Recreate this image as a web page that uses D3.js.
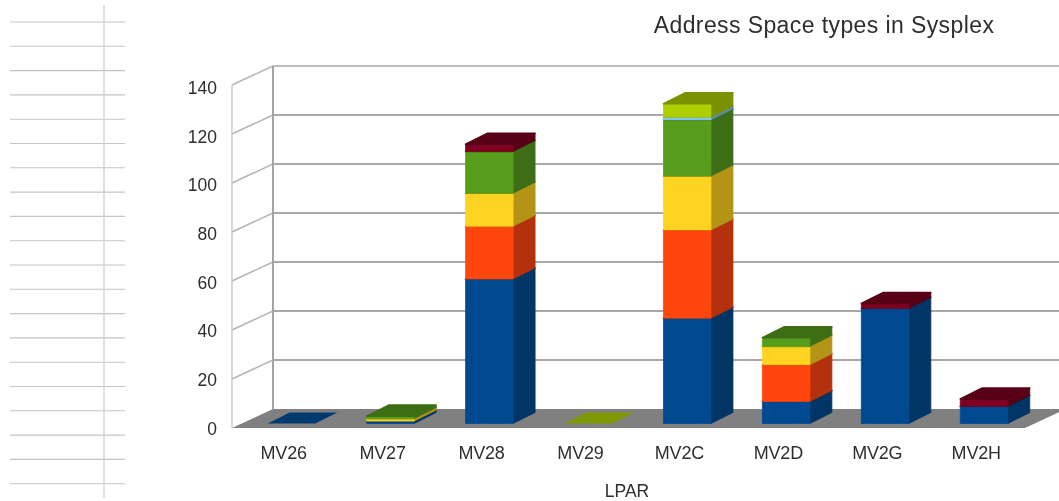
<!DOCTYPE html>
<html><head><meta charset="utf-8">
<script src="https://cdn.jsdelivr.net/npm/d3@7"></script>
<style>
html,body{margin:0;padding:0;background:#fff;overflow:hidden}
text{font-family:"Liberation Sans",Arial,sans-serif;fill:#2e2e2e}
</style></head><body>
<svg id="c" width="1059" height="501"></svg>
<script>
const categories=["MV26","MV27","MV28","MV29","MV2C","MV2D","MV2G","MV2H"];
const seriesBlue  =[0,1,59,null,43,9,47,7];
const seriesOrange=[null,null,21.5,null,36,15,null,null];
const seriesYellow=[null,1,13.5,null,22,7.5,null,null];
const seriesGreen =[null,1,17,null,23,3.5,null,null];
const seriesMaroon=[null,null,3,null,null,null,2,3];
const seriesSky   =[null,null,null,null,1,null,null,null];
const seriesLime  =[null,null,null,0,5.5,null,null,null];
const seriesList=[seriesBlue,seriesOrange,seriesYellow,seriesGreen,seriesMaroon,seriesSky,seriesLime];
const colors=["#004a90","#ff470a","#ffd320","#579d1c","#7e0021","#83caff","#aecf00"];
const yTicks=[0,20,40,60,80,100,120,140];

const svg=d3.select("#c");
const defs=svg.append("defs");
defs.append("filter").attr("id","soft").append("feGaussianBlur").attr("stdDeviation",0.45);
defs.append("filter").attr("id","softBar").append("feGaussianBlur").attr("stdDeviation",0.7);

const y=d3.scaleLinear().domain([0,140]).range([428,85]);
const x=d3.scaleBand().domain(categories).range([232,1021.5]).paddingInner(0.52).paddingOuter(0.25);
const wallDx=41,wallDy=-19,barOffX=11,barOffY=-4.5,barDx=22,barDy=-11;
const poly=p=>"M"+p.map(d=>d.join(",")).join("L")+"Z";

// ruled lines at left
const rule=svg.append("g").attr("filter","url(#soft)");
rule.selectAll("line.h").data(d3.range(20)).join("line")
  .attr("x1",10).attr("x2",125)
  .attr("y1",i=>22+i*24.3).attr("y2",i=>22+i*24.3)
  .attr("stroke","#c4c4c4").attr("stroke-width",1.1);
rule.append("line").attr("x1",104).attr("x2",104).attr("y1",5).attr("y2",498)
  .attr("stroke","#d2d2d2").attr("stroke-width",1.4);

// walls
const wall=svg.append("g").attr("filter","url(#soft)");
wall.append("path")
  .attr("d",poly([[232,428],[232+wallDx,428+wallDy],[1066,428+wallDy],[1025,428]]))
  .attr("fill","#808080");
wall.selectAll("line.grid").data(yTicks.slice(1)).join("line")
  .attr("x1",273).attr("x2",1059)
  .attr("y1",d=>y(d)+wallDy).attr("y2",d=>y(d)+wallDy)
  .attr("stroke","#a8a8a8").attr("stroke-width",d=>d===140?1.4:2);
wall.selectAll("line.side").data(yTicks.slice(1)).join("line")
  .attr("x1",232).attr("x2",232+wallDx)
  .attr("y1",d=>y(d)).attr("y2",d=>y(d)+wallDy)
  .attr("stroke","#b4b4b4").attr("stroke-width",1.5);
wall.append("line").attr("x1",232).attr("x2",232).attr("y1",y(140)).attr("y2",y(0))
  .attr("stroke","#c4c4c4").attr("stroke-width",1.3);
wall.append("line").attr("x1",273).attr("x2",273).attr("y1",y(140)+wallDy).attr("y2",y(0)+wallDy)
  .attr("stroke","#a4a4a4").attr("stroke-width",2);

// bars
const bars=svg.append("g").attr("filter","url(#softBar)");
categories.forEach((c,i)=>{
  let sum=0;
  const g=bars.append("g").attr("stroke-linejoin","round");
  seriesList.forEach((vals,s)=>{
    const v=vals[i];
    if(v===null) return;
    const x0=x(c)+barOffX,x1=x0+x.bandwidth();
    const yb=y(sum)+barOffY,yt=y(sum+v)+barOffY;
    sum+=v;
    const col=d3.color(colors[s]);
    const dark=col.darker(1).formatHex();
    if(v>0){
      g.append("path").attr("d",poly([[x1,yb],[x1+barDx,yb+barDy],[x1+barDx,yt+barDy],[x1,yt]]))
        .attr("fill",dark).attr("stroke",dark).attr("stroke-width",0.8);
      g.append("path").attr("d",poly([[x0,yb],[x1,yb],[x1,yt],[x0,yt]]))
        .attr("fill",colors[s]).attr("stroke",colors[s]).attr("stroke-width",0.8);
    }
    const flat=colors[s]==="#aecf00"?"#7f9a00":"#003a70";
    g.append("path").attr("d",poly([[x0,yt],[x1,yt],[x1+barDx,yt+barDy],[x0+barDx,yt+barDy]]))
      .attr("fill",v===0?flat:dark)
      .attr("stroke",v===0?"none":dark).attr("stroke-width",1.6);
  });
});

// axes
const labels=svg.append("g").attr("filter","url(#soft)");
const ax=labels.append("g").attr("transform","translate(217,87)")
  .call(d3.axisLeft(d3.scaleLinear().domain([0,140]).range([341,0])).tickValues(yTicks).tickSize(0).tickPadding(0));
ax.select(".domain").remove();
ax.selectAll("text").attr("font-size",17.5).attr("font-family",null).attr("dy","0.36em").attr("text-anchor","end");

const bx=labels.append("g").attr("transform","translate(3.2,453)")
  .call(d3.axisBottom(x).tickSize(0).tickPadding(0));
bx.select(".domain").remove();
bx.selectAll("text").attr("font-size",18).attr("font-family",null).attr("dy","0.36em").attr("y",0).attr("letter-spacing",-0.2);

labels.append("text").attr("x",824).attr("y",33).attr("text-anchor","middle").attr("font-size",23).attr("letter-spacing",0.4).text("Address Space types in Sysplex");
labels.append("text").attr("x",627).attr("y",497).attr("text-anchor","middle").attr("font-size",17.5).text("LPAR");
</script>
</body></html>
